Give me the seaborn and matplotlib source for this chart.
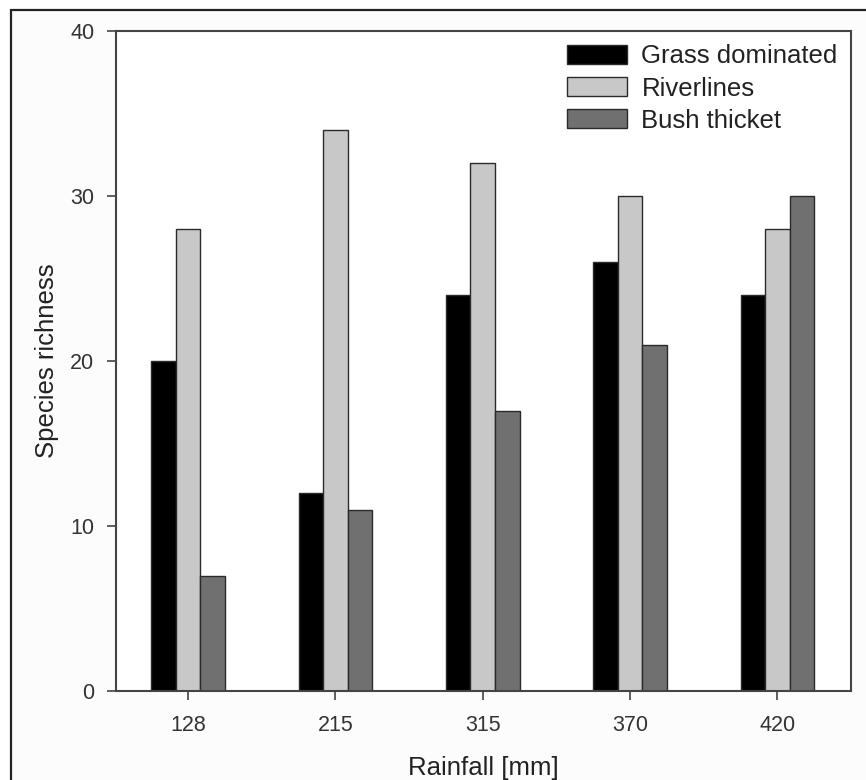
import matplotlib
matplotlib.use("Agg")
import matplotlib.pyplot as plt
from matplotlib.patches import Rectangle
import seaborn as sns
import pandas as pd

rainfall = ["128", "215", "315", "370", "420"]
grass_dominated = [20, 12, 24, 26, 24]
riverlines = [28, 34, 32, 30, 28]
bush_thicket = [7, 11, 17, 21, 30]
habitats = ["Grass dominated", "Riverlines", "Bush thicket"]
y_ticks = [0, 10, 20, 30, 40]

df = pd.DataFrame({
    "Rainfall": rainfall * 3,
    "Habitat": [h for h in habitats for _ in rainfall],
    "Richness": grass_dominated + riverlines + bush_thicket,
})

sns.set_theme(style="white")
plt.rcParams["font.family"] = ["Liberation Sans", "DejaVu Sans"]

fig = plt.figure(figsize=(8.66, 7.8), dpi=100, facecolor="white")
# framed panel background
fig.patches.append(Rectangle((11 / 866, -0.01), 1.0, 1 - 10 / 780 + 0.01,
                             transform=fig.transFigure, facecolor="#fcfcfc",
                             edgecolor="#222222", linewidth=1.6, zorder=-10))
ax = fig.add_axes([116 / 866, 1 - 691 / 780, (851 - 116) / 866, (691 - 31) / 780])
ax.set_facecolor("white")

palette = {"Grass dominated": "#000000", "Riverlines": "#c8c8c8", "Bush thicket": "#707070"}
sns.barplot(data=df, x="Rainfall", y="Richness", hue="Habitat", hue_order=habitats,
            palette=palette, width=0.5, edgecolor="#2a2a2a", linewidth=1.0,
            saturation=1, ax=ax, errorbar=None)

ax.set_xlim(-0.49, 4.5)
ax.set_ylim(0, 40)
ax.set_yticks(y_ticks)
ax.set_yticklabels([str(t) for t in y_ticks])

for s in ax.spines.values():
    s.set_visible(True)
    s.set_color("#444444")
    s.set_linewidth(1.5)

ax.tick_params(axis="both", which="major", direction="out", length=6.5, width=1.2,
               color="#444444", labelsize=15.5, labelcolor="#333333",
               left=True, bottom=True, pad=9)
ax.tick_params(axis="x", pad=11)

ax.set_xlabel("Rainfall [mm]", fontsize=18.5, color="#222222", labelpad=14)
ax.set_ylabel("Species richness", fontsize=18.5, color="#222222", labelpad=8)

leg = ax.legend(loc="upper right", frameon=False, fontsize=18.5,
                handlelength=2.35, handleheight=0.75, handletextpad=0.55,
                labelspacing=0.32, borderaxespad=0.12)
for t in leg.get_texts():
    t.set_color("#222222")

fig.savefig("out.png", dpi=100, facecolor=fig.get_facecolor())
